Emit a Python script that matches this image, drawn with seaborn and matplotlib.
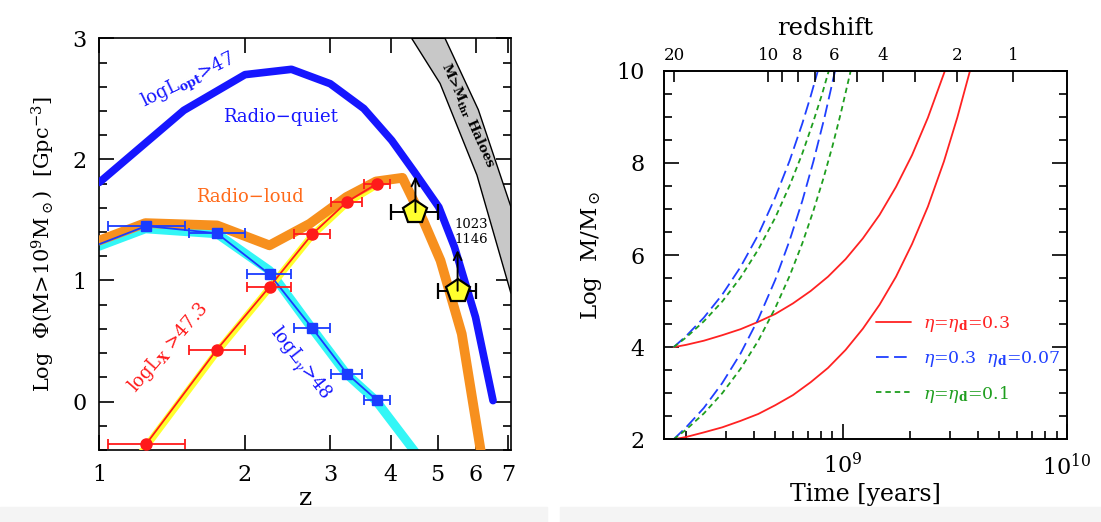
import numpy as np
import matplotlib
matplotlib.use("Agg")
import matplotlib.pyplot as plt
import seaborn as sns
from matplotlib.ticker import (FixedLocator, MultipleLocator, NullFormatter,
                               NullLocator, LogLocator)
from matplotlib.patches import Polygon, Rectangle

# ---------------- left panel: Log Phi(M > 1e9 Msun) versus z ----------------
# radio-quiet (log L_opt > 47)
z_radio_quiet = [1.0, 1.495, 2.0, 2.495, 3.0, 3.52, 4.02, 4.48, 5.03, 5.42, 5.99, 6.51]
phi_radio_quiet = [1.81, 2.405, 2.70, 2.744, 2.625, 2.42, 2.157, 1.895, 1.606, 1.275, 0.697, 0.008]

# radio-loud
z_radio_loud = [1.0, 1.245, 1.751, 2.247, 2.72, 3.24, 3.73, 4.23, 4.67, 5.07, 5.61, 6.17]
phi_radio_loud = [1.33, 1.474, 1.455, 1.29, 1.468, 1.689, 1.818, 1.848, 1.496, 1.165, 0.559, -0.46]

# model band for log L_gamma > 48
z_gamma_model = [1.0, 1.245, 1.751, 2.247, 2.74, 3.24, 3.73, 4.5]
phi_gamma_model = [1.284, 1.427, 1.386, 1.083, 0.614, 0.229, 0.008, -0.42]

# model band for log L_X > 47.3
z_xray_model = [1.21, 1.25, 1.75, 2.25, 2.75, 3.25, 3.75]
phi_xray_model = [-0.44, -0.37, 0.41, 0.94, 1.37, 1.64, 1.79]

# binned measurements
z_bins = [1.25, 1.75, 2.25, 2.75, 3.25, 3.75]
z_err_lo = [0.21, 0.22, 0.23, 0.23, 0.24, 0.22]
z_err_hi = [0.25, 0.25, 0.24, 0.25, 0.24, 0.24]
phi_xray = [-0.35, 0.43, 0.95, 1.38, 1.65, 1.80]
phi_gamma = [1.45, 1.39, 1.05, 0.61, 0.23, 0.01]
z_gamma_line_start = 1.0
phi_gamma_line_start = 1.30

# high-z lower limits
z_limits = [4.5, 5.5]
z_limits_err = [0.5, 0.5]
phi_limits = [1.565, 0.915]
phi_limits_arrow_top = [1.86, 1.25]

# halo band edges
halo_lo_z = [4.42, 5.06, 6.03, 7.09]
halo_lo_phi = [3.0, 2.627, 1.87, 0.893]
halo_hi_z = [5.18, 6.07, 7.09]
halo_hi_phi = [3.0, 2.41, 1.607]

# ---------------- right panel: black hole mass growth ----------------
t_red_a = [1.76e8, 2.0e8, 2.4e8, 2.9e8, 3.5e8, 4.2e8, 5.0e8, 6.0e8, 7.2e8, 8.6e8,
           1.03e9, 1.23e9, 1.46e9, 1.73e9, 2.04e9, 2.40e9, 2.86e9]
m_red_a = [4.00, 4.05, 4.14, 4.26, 4.39, 4.55, 4.72, 4.95, 5.22, 5.53,
           5.91, 6.36, 6.87, 7.48, 8.17, 8.98, 10.0]
t_red_b = [1.76e8, 2.0e8, 2.4e8, 2.9e8, 3.5e8, 4.2e8, 5.0e8, 6.0e8, 7.2e8, 8.6e8,
           1.03e9, 1.23e9, 1.46e9, 1.73e9, 2.04e9, 2.40e9, 2.83e9, 3.25e9, 3.70e9]
m_red_b = [2.00, 2.05, 2.15, 2.26, 2.40, 2.55, 2.74, 2.96, 3.24, 3.55,
           3.94, 4.40, 4.92, 5.53, 6.24, 7.05, 8.03, 8.99, 10.0]
t_blue_a = [1.76e8, 2.0e8, 2.4e8, 2.9e8, 3.5e8, 4.2e8, 5.0e8, 5.8e8, 6.6e8, 7.2e8, 7.75e8]
m_blue_a = [4.0, 4.24, 4.64, 5.14, 5.74, 6.44, 7.25, 8.05, 8.85, 9.45, 10.0]
t_blue_b = [1.76e8, 2.0e8, 2.4e8, 2.9e8, 3.5e8, 4.2e8, 5.0e8, 5.8e8, 6.6e8, 7.4e8, 8.3e8, 9.25e8]
m_blue_b = [2.0, 2.26, 2.68, 3.22, 3.86, 4.61, 5.46, 6.32, 7.17, 8.03, 8.99, 10.0]
t_green_a = [1.76e8, 2.0e8, 2.4e8, 2.9e8, 3.5e8, 4.2e8, 5.0e8, 5.8e8, 6.6e8, 7.4e8, 8.1e8, 8.67e8]
m_green_a = [4.0, 4.21, 4.56, 4.99, 5.51, 6.12, 6.81, 7.51, 8.20, 8.90, 9.50, 10.0]
t_green_b = [1.76e8, 2.0e8, 2.4e8, 2.9e8, 3.5e8, 4.2e8, 5.0e8, 5.8e8, 6.6e8, 7.4e8,
             8.2e8, 9.0e8, 9.8e8, 1.086e9]
m_green_b = [2.0, 2.21, 2.56, 3.00, 3.53, 4.14, 4.85, 5.55, 6.25, 6.96,
             7.66, 8.36, 9.07, 10.0]

redshift_ticks = [20, 10, 9, 8, 7, 6, 5, 4, 3, 2, 1]
redshift_labels = ["20", "10", "", "8", "", "6", "", "4", "", "2", "1"]

legend_labels = [r"$\eta$=$\eta_{\mathbf{d}}$=0.3",
                 r"$\eta$=0.3  $\eta_{\mathbf{d}}$=0.07",
                 r"$\eta$=$\eta_{\mathbf{d}}$=0.1"]


def cosmic_age(z, h0=70.0, om=0.3):
    """Age of a flat LCDM universe at redshift z, in years."""
    ol = 1.0 - om
    t_hubble = 977.8 / h0 * 1e9
    z = np.asarray(z, dtype=float)
    return (2.0 / (3.0 * np.sqrt(ol)) * t_hubble
            * np.arcsinh(np.sqrt(ol / om) * (1.0 + z) ** -1.5))


sns.set_theme(style="ticks", rc={
    "axes.edgecolor": "black", "text.color": "black",
    "xtick.color": "black", "ytick.color": "black",
    "axes.labelcolor": "black", "axes.linewidth": 1.2,
})
plt.rcParams["font.family"] = ["DejaVu Serif"]
plt.rcParams["mathtext.fontset"] = "dejavuserif"

fig = plt.figure(figsize=(11.01, 5.22), dpi=100)

# faint shading strip at the foot of the page
fig.patches.append(Rectangle((0, 0), 0.497, 0.028, transform=fig.transFigure,
                             color="#f4f4f4", zorder=-10))
fig.patches.append(Rectangle((0.509, 0), 0.491, 0.028, transform=fig.transFigure,
                             color="#f4f4f4", zorder=-10))

axL = fig.add_axes([0.0902, 0.1379, 0.3739, 0.7887])
axR = fig.add_axes([0.6034, 0.1584, 0.3655, 0.7061])
axL.patch.set_alpha(0)
axR.patch.set_alpha(0)


def trace(ax, x, y, **kw):
    sns.lineplot(x=x, y=y, ax=ax, sort=False, estimator=None, legend=False, **kw)
    return ax.lines[-1]


BLUE = "#1616ff"
ORANGE = "#f7901e"
CYAN = "#33f6f6"
YELLOW = "#ffff2e"
RED = "#ff1a1a"
BLUE_THIN = "#1a3cff"

# ---- left panel ----
axL.set_xscale("log")
band = Polygon(list(zip(halo_lo_z, halo_lo_phi)) + list(zip(halo_hi_z, halo_hi_phi))[::-1],
               closed=True, facecolor="#c8c8c8", edgecolor="black", lw=1.0, zorder=1)
axL.add_patch(band)

trace(axL, z_gamma_model, phi_gamma_model, color=CYAN, linewidth=6.5, zorder=2)
trace(axL, z_xray_model, phi_xray_model, color=YELLOW, linewidth=5, zorder=3)
trace(axL, z_radio_loud, phi_radio_loud, color=ORANGE, linewidth=7, zorder=4)
trace(axL, z_radio_quiet, phi_radio_quiet, color=BLUE, linewidth=5.5, zorder=5)

trace(axL, [z_gamma_line_start] + z_bins, [phi_gamma_line_start] + phi_gamma,
      color=BLUE_THIN, linewidth=1.3, zorder=6)
trace(axL, z_bins, phi_xray, color=RED, linewidth=1.3, zorder=6)

axL.errorbar(z_bins, phi_gamma, xerr=[z_err_lo, z_err_hi], fmt="s", color=BLUE_THIN,
             ms=6.5, capsize=3.5, elinewidth=1.3, capthick=1.3, zorder=7)
axL.errorbar(z_bins, phi_xray, xerr=[z_err_lo, z_err_hi], fmt="o", color=RED,
             ms=8, capsize=3.5, elinewidth=1.3, capthick=1.3, zorder=7)

axL.errorbar(z_limits, phi_limits, xerr=[z_limits_err, z_limits_err], fmt="p",
             color="black", mfc=YELLOW, mec="black", mew=1.6, ms=18,
             capsize=5.5, elinewidth=1.4, capthick=1.4, zorder=8)
for z, lo, hi in zip(z_limits, phi_limits, phi_limits_arrow_top):
    axL.annotate("", xy=(z, hi), xytext=(z, lo),
                 arrowprops=dict(arrowstyle="->", color="black", lw=1.4,
                                 shrinkA=0, shrinkB=0, mutation_scale=14),
                 zorder=9)

axL.set_xlim(1, 7.09)
axL.set_ylim(-0.4, 3)
axL.xaxis.set_major_locator(FixedLocator([1, 2, 3, 4, 5, 6, 7]))
axL.set_xticklabels(["1", "2", "3", "4", "5", "6", "7"])
axL.xaxis.set_minor_locator(NullLocator())
axL.yaxis.set_major_locator(MultipleLocator(1))
axL.yaxis.set_minor_locator(MultipleLocator(0.2))
axL.tick_params(which="both", direction="in", top=True, right=True, width=1.2,
                labelsize=16)
axL.tick_params(which="major", length=11)
axL.tick_params(which="minor", length=6)
axL.tick_params(axis="y", pad=9)
axL.tick_params(axis="x", pad=10)

axL.set_xlabel("z", fontsize=18)
axL.xaxis.label.set_va("center")
axL.xaxis.set_label_coords(0.5, -0.117)
axL.set_ylabel(r"Log  $\Phi$(M>10$^9$M$_\odot$)  [Gpc$^{-3}$]", fontsize=15)
axL.yaxis.label.set_va("center")
axL.yaxis.set_label_coords(-0.135, 0.5)

axL.text(1.532, 2.64, r"logL$_{\mathbf{opt}}$>47", color=BLUE, fontsize=13,
         rotation=26, ha="center", va="center")
axL.text(2.363, 2.35, "Radio\u2212quiet", color=BLUE, fontsize=13,
         ha="center", va="center")
axL.text(2.049, 1.69, "Radio\u2212loud", color="#ff6a1a", fontsize=13,
         ha="center", va="center")
axL.text(1.389, 0.45, r"logL$_{\mathbf{X}}$ >47.3", color=RED, fontsize=13,
         rotation=49, ha="center", va="center")
axL.text(2.59, 0.31, r"logL$_\gamma$>48", color=BLUE, fontsize=13,
         rotation=-52, ha="center", va="center")
axL.text(5.76, 2.36, r"M>M$_{\mathbf{thr}}$ Haloes", color="black", fontsize=9.5,
         fontweight="bold", rotation=-66, ha="center", va="center", zorder=3)
axL.text(5.86, 1.40, "1023\n1146", color="black", fontsize=9.5,
         ha="center", va="center", linespacing=1.15)

# ---- right panel ----
axR.set_xscale("log")
GREEN = "#1e9e1e"
RED_R = "#ff2222"
BLUE_R = "#1f3fff"
h_red = trace(axR, t_red_a, m_red_a, color=RED_R, linewidth=1.3)
trace(axR, t_red_b, m_red_b, color=RED_R, linewidth=1.3)
h_blue = trace(axR, t_blue_a, m_blue_a, color=BLUE_R, linewidth=1.3)
h_blue.set_dashes((7, 3))
trace(axR, t_blue_b, m_blue_b, color=BLUE_R, linewidth=1.3).set_dashes((7, 3))
h_green = trace(axR, t_green_a, m_green_a, color=GREEN, linewidth=1.3)
h_green.set_dashes((3, 2.2))
trace(axR, t_green_b, m_green_b, color=GREEN, linewidth=1.3).set_dashes((3, 2.2))

axR.set_xlim(1.6e8, 1e10)
axR.set_ylim(2, 10)
axR.xaxis.set_major_locator(LogLocator(base=10))
axR.xaxis.set_minor_locator(LogLocator(base=10, subs=np.arange(2, 10)))
axR.xaxis.set_minor_formatter(NullFormatter())
axR.yaxis.set_major_locator(MultipleLocator(2))
axR.yaxis.set_minor_locator(MultipleLocator(0.5))
axR.tick_params(which="both", direction="in", top=False, right=True, width=1.2,
                labelsize=16)
axR.tick_params(which="major", length=11)
axR.tick_params(which="minor", length=6)
axR.tick_params(axis="y", pad=14)
axR.tick_params(axis="x", pad=10)

axR.set_xlabel("Time [years]", fontsize=17)
axR.xaxis.label.set_va("center")
axR.xaxis.set_label_coords(0.5, -0.15)
axR.set_ylabel(r"Log  M/M$_\odot$", fontsize=16.5)
axR.yaxis.label.set_va("center")
axR.yaxis.set_label_coords(-0.18, 0.5)

leg = axR.legend([h_red, h_blue, h_green], legend_labels, loc="upper left",
                 bbox_to_anchor=(0.527, 0.34), frameon=False, fontsize=12.5,
                 handlelength=2.0, handletextpad=0.7, labelspacing=0.85,
                 borderpad=0, borderaxespad=0)
for txt, col in zip(leg.get_texts(), [RED_R, BLUE_R, GREEN]):
    txt.set_color(col)

axT = axR.twiny()
axT.set_xscale("log")
axT.set_xlim(axR.get_xlim())
axT.xaxis.set_major_locator(FixedLocator(cosmic_age(redshift_ticks)))
axT.set_xticklabels(redshift_labels)
axT.xaxis.set_minor_locator(NullLocator())
axT.tick_params(axis="x", direction="in", length=8, width=1.2, labelsize=12, pad=5)
axT.set_xlabel("redshift", fontsize=17.5)
axT.xaxis.label.set_va("center")
axT.xaxis.set_label_coords(0.40, 1.115)

fig.savefig("out.png", dpi=100)
